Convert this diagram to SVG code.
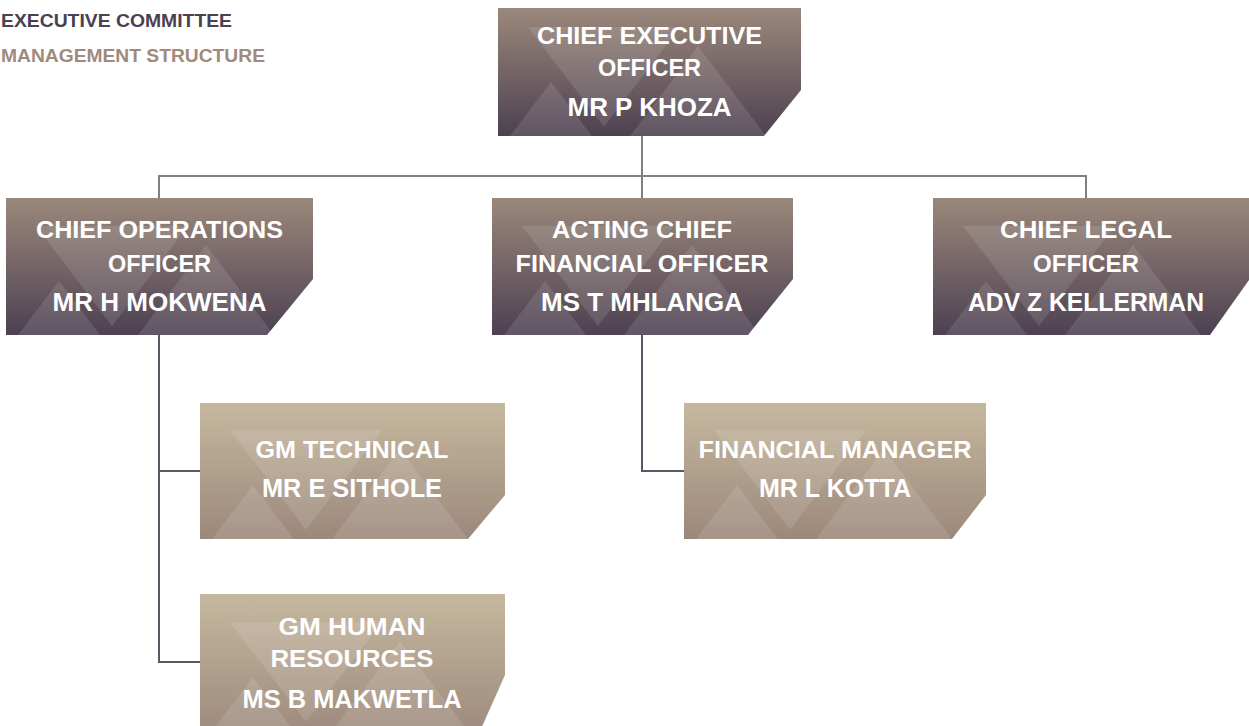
<svg xmlns="http://www.w3.org/2000/svg" xmlns:xlink="http://www.w3.org/1999/xlink" width="1249" height="726" viewBox="0 0 1249 726">
  <defs>
    <linearGradient id="gDark" x1="0" y1="0" x2="0" y2="1">
      <stop offset="0" stop-color="#9b887b"/>
      <stop offset="1" stop-color="#4d4152"/>
    </linearGradient>
    <linearGradient id="gLight" x1="0" y1="0" x2="0" y2="1">
      <stop offset="0" stop-color="#c6b89f"/>
      <stop offset="1" stop-color="#9c887b"/>
    </linearGradient>
    <!-- faint triangle watermark, origin at the box's bottom-left corner -->
    <g id="wm" fill="#ffffff" fill-opacity="0.11">
      <polygon points="30,-109 182,-109 106,-9"/>
      <polygon points="53,-54 12,0 94,0"/>
      <polygon points="200,-90 132,0 268,0"/>
    </g>
  </defs>
  <style>
    .dark { fill: url(#gDark); }
    .light { fill: url(#gLight); }
    .t { font-family: "Liberation Sans", Arial, sans-serif; font-weight: bold; fill: #ffffff; text-anchor: middle; font-size: 23.5px; }
    .n { font-size: 25px; }
    .hdr { font-family: "Liberation Sans", Arial, sans-serif; font-weight: bold; font-size: 19px; }
    .link-top { fill: none; stroke: #808083; stroke-width: 2; }
    .link-low { fill: none; stroke: #5e5566; stroke-width: 2; }
  </style>

  <!-- headings -->
  <g id="legend">
    <text class="hdr" x="1" y="27" fill="#4a4050" textLength="231" lengthAdjust="spacingAndGlyphs">EXECUTIVE COMMITTEE</text>
    <text class="hdr" x="1" y="62" fill="#a08a7c" textLength="264" lengthAdjust="spacingAndGlyphs">MANAGEMENT STRUCTURE</text>
  </g>

  <!-- connectors -->
  <g id="connectors">
    <path class="link-top" d="M642,136 V176 M159,176 H1086 M159,175 V198 M642,176 V198 M1086,175 V198"/>
    <path class="link-low" d="M159,335 V662 H200 M159,471 H200 M642,335 V471 H684"/>
  </g>

  <g id="ceo">
    <path class="dark" d="M498,8 H801 V90 L764,136 H498 Z"/>
    <use xlink:href="#wm" x="498" y="136"/>
    <text class="t" x="649.5" y="44" textLength="225" lengthAdjust="spacingAndGlyphs">CHIEF EXECUTIVE</text>
    <text class="t" x="649.5" y="76">OFFICER</text>
    <text class="t n" x="649.5" y="116" textLength="164" lengthAdjust="spacingAndGlyphs">MR P KHOZA</text>
  </g>

  <g id="coo">
    <path class="dark" d="M6,198 H313 V279 L267,335 H6 Z"/>
    <use xlink:href="#wm" x="6" y="335"/>
    <text class="t" x="159.5" y="238" textLength="247" lengthAdjust="spacingAndGlyphs">CHIEF OPERATIONS</text>
    <text class="t" x="159.5" y="272">OFFICER</text>
    <text class="t n" x="159.5" y="311" textLength="214" lengthAdjust="spacingAndGlyphs">MR H MOKWENA</text>
  </g>

  <g id="cfo">
    <path class="dark" d="M492,198 H793 V279 L748,335 H492 Z"/>
    <use xlink:href="#wm" x="492" y="335"/>
    <text class="t" x="642" y="238" textLength="180" lengthAdjust="spacingAndGlyphs">ACTING CHIEF</text>
    <text class="t" x="642" y="272" textLength="253" lengthAdjust="spacingAndGlyphs">FINANCIAL OFFICER</text>
    <text class="t n" x="642" y="311" textLength="202" lengthAdjust="spacingAndGlyphs">MS T MHLANGA</text>
  </g>

  <g id="clo">
    <path class="dark" d="M933,198 H1249 V280 L1210,335 H933 Z"/>
    <use xlink:href="#wm" x="933" y="335"/>
    <text class="t" x="1086" y="238" textLength="172" lengthAdjust="spacingAndGlyphs">CHIEF LEGAL</text>
    <text class="t" x="1086" y="272" textLength="106" lengthAdjust="spacingAndGlyphs">OFFICER</text>
    <text class="t n" x="1086" y="311" textLength="236" lengthAdjust="spacingAndGlyphs">ADV Z KELLERMAN</text>
  </g>

  <g id="gm-technical">
    <path class="light" d="M200,403 H505 V495 L468,539 H200 Z"/>
    <use xlink:href="#wm" x="200" y="539"/>
    <text class="t" x="352" y="458" textLength="193" lengthAdjust="spacingAndGlyphs">GM TECHNICAL</text>
    <text class="t n" x="352" y="497" textLength="180" lengthAdjust="spacingAndGlyphs">MR E SITHOLE</text>
  </g>

  <g id="financial-manager">
    <path class="light" d="M684,403 H986 V495 L952,539 H684 Z"/>
    <use xlink:href="#wm" x="684" y="539"/>
    <text class="t" x="835" y="458" textLength="273" lengthAdjust="spacingAndGlyphs">FINANCIAL MANAGER</text>
    <text class="t n" x="835" y="497" textLength="152" lengthAdjust="spacingAndGlyphs">MR L KOTTA</text>
  </g>

  <g id="gm-hr">
    <path class="light" d="M200,594 H505 V675 L476,740 H200 Z"/>
    <use xlink:href="#wm" x="200" y="731"/>
    <text class="t" x="352" y="635" textLength="147" lengthAdjust="spacingAndGlyphs">GM HUMAN</text>
    <text class="t" x="352" y="667" textLength="163" lengthAdjust="spacingAndGlyphs">RESOURCES</text>
    <text class="t n" x="352" y="708" textLength="219" lengthAdjust="spacingAndGlyphs">MS B MAKWETLA</text>
  </g>
</svg>
